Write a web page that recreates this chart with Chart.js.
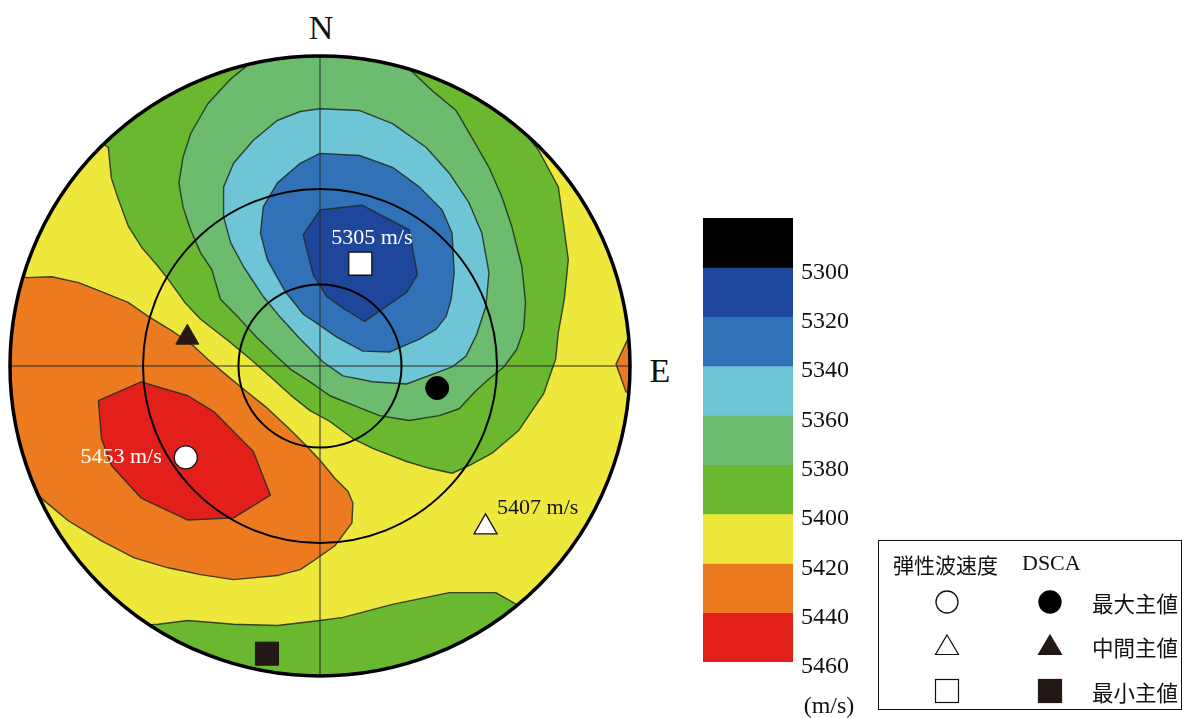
<!DOCTYPE html>
<html>
<head>
<meta charset="utf-8">
<script src="https://cdn.jsdelivr.net/npm/chart.js@4.4.1/dist/chart.umd.min.js"></script>
<style>
  html, body { margin: 0; padding: 0; background: #fff; }
  body { width: 1186px; height: 718px; position: relative; overflow: hidden; }
  canvas { position: absolute; }
  #net { left: 0; top: 46px; }
  #scale { left: 680px; top: 188px; }
  .t { position: absolute; line-height: 1; white-space: nowrap; color: #111; transform: translateY(-50%); }
  .serif { font-family: 'Liberation Serif', 'Times New Roman', serif; }
  .jp { font-family: 'Noto Sans CJK JP', sans-serif; }
  #legend { position: absolute; left: 878px; top: 540px; width: 302px; height: 168px; border: 1.6px solid #111; }
  #legendMarks { position: absolute; left: 0; top: 0; }
</style>
</head>
<body>
<canvas id="net" width="640" height="640"></canvas>
<canvas id="scale" width="200" height="510"></canvas>

<div class="t serif" style="left:321px;top:28px;font-size:34px;transform:translate(-50%,-50%);">N</div>
<div class="t serif" style="left:660px;top:371px;font-size:34px;transform:translate(-50%,-50%);">E</div>
<div class="t serif" style="left:829px;top:705px;font-size:24px;transform:translate(-50%,-50%);">(m/s)</div>

<div id="legend"></div>
<svg id="legendMarks" width="1186" height="718"></svg>
<div class="t jp" style="left:893px;top:564px;font-size:21px;">弾性波速度</div>
<div class="t serif" style="left:1022px;top:563px;font-size:22px;">DSCA</div>
<div class="t jp" id="row0" style="left:1092px;top:603px;font-size:21.5px;"></div>
<div class="t jp" id="row1" style="left:1092px;top:647px;font-size:21.5px;"></div>
<div class="t jp" id="row2" style="left:1092px;top:692px;font-size:21.5px;"></div>

<script>
// Velocity bands (m/s): edges of the filled contour classes
const levelEdges = [5280, 5300, 5320, 5340, 5360, 5380, 5400, 5420, 5440, 5460];
const scaleTicks = [5300, 5320, 5340, 5360, 5380, 5400, 5420, 5440, 5460];
const bandColors = ['#000000', '#1e469b', '#3171b8', '#6ec5d5', '#6cbb6f', '#6ab730', '#efe83c', '#ec7b1f', '#e31f1c'];
const baseBand = 6; // 5400-5420 m/s fills the rest of the net

// Contour boundaries in projection coordinates (primitive circle radius = 1)
const greenNorth = [
  [-0.897, 0.856], [0, 1.128], [0.897, 0.872], [0.673, 0.737], [0.705, 0.696], [0.769, 0.577],
  [0.801, 0.343], [0.788, 0.215], [0.769, 0.109], [0.760, 0.022], [0.721, -0.090], [0.641, -0.208],
  [0.554, -0.282], [0.481, -0.321], [0.426, -0.346], [0.353, -0.330], [0.279, -0.308], [0.170, -0.266],
  [0.106, -0.234], [0.032, -0.179], [-0.032, -0.144], [-0.096, -0.093], [-0.160, -0.035], [-0.224, 0.022],
  [-0.298, 0.083], [-0.385, 0.151], [-0.436, 0.205], [-0.487, 0.276], [-0.522, 0.321], [-0.574, 0.381],
  [-0.619, 0.452], [-0.654, 0.548], [-0.673, 0.606], [-0.683, 0.705]
];
const greenSouth = [
  [-0.705, -1.067], [-0.577, -0.837], [-0.522, -0.833], [-0.426, -0.821], [-0.279, -0.833], [-0.138, -0.837],
  [0, -0.821], [0.074, -0.811], [0.234, -0.769], [0.417, -0.731], [0.567, -0.731], [0.628, -0.766],
  [0.673, -0.785], [0.769, -1.067]
];
const lightGreen = [
  [-0.224, 1.048], [0.304, 1.032], [0.288, 0.958], [0.362, 0.888], [0.439, 0.824], [0.490, 0.737],
  [0.545, 0.641], [0.587, 0.545], [0.619, 0.449], [0.651, 0.321], [0.663, 0.205], [0.657, 0.119],
  [0.635, 0.054], [0.593, -0.003], [0.545, -0.042], [0.503, -0.080], [0.449, -0.138], [0.385, -0.160],
  [0.288, -0.176], [0.192, -0.160], [0.119, -0.131], [0.032, -0.096], [-0.032, -0.051], [-0.096, -0.010],
  [-0.144, 0.035], [-0.208, 0.096], [-0.266, 0.160], [-0.321, 0.215], [-0.349, 0.311], [-0.385, 0.365],
  [-0.417, 0.439], [-0.442, 0.513], [-0.455, 0.590], [-0.442, 0.673], [-0.417, 0.750], [-0.362, 0.846],
  [-0.288, 0.926], [-0.240, 0.965]
];
const cyan = [
  [0, 0.830], [0.128, 0.824], [0.234, 0.782], [0.343, 0.705], [0.417, 0.622], [0.481, 0.526],
  [0.522, 0.429], [0.545, 0.301], [0.535, 0.192], [0.506, 0.103], [0.471, 0.032], [0.426, -0.003],
  [0.375, -0.022], [0.279, -0.058], [0.170, -0.051], [0.074, -0.032], [0.010, 0.013], [-0.064, 0.087],
  [-0.128, 0.157], [-0.183, 0.224], [-0.247, 0.321], [-0.288, 0.397], [-0.311, 0.481], [-0.311, 0.577],
  [-0.279, 0.654], [-0.215, 0.728], [-0.138, 0.792], [-0.064, 0.821]
];
const midBlue = [
  [0, 0.686], [0.128, 0.679], [0.234, 0.641], [0.321, 0.577], [0.394, 0.503], [0.426, 0.429],
  [0.433, 0.301], [0.423, 0.215], [0.407, 0.160], [0.375, 0.119], [0.321, 0.087], [0.224, 0.045],
  [0.138, 0.048], [0.054, 0.093], [-0.006, 0.135], [-0.054, 0.167], [-0.112, 0.240], [-0.170, 0.343],
  [-0.192, 0.429], [-0.183, 0.513], [-0.138, 0.590], [-0.064, 0.654]
];
const darkBlue = [
  [0, 0.503], [0.135, 0.519], [0.288, 0.439], [0.314, 0.295], [0.279, 0.237], [0.144, 0.144],
  [0.080, 0.183], [0.022, 0.224], [-0.022, 0.295], [-0.054, 0.423]
];
const orangeWest = [
  [-1.026, 0.311], [-0.946, 0.285], [-0.865, 0.288], [-0.779, 0.269], [-0.705, 0.240], [-0.619, 0.205],
  [-0.554, 0.160], [-0.471, 0.109], [-0.407, 0.064], [-0.362, 0.022], [-0.295, -0.035], [-0.240, -0.080],
  [-0.176, -0.131], [-0.106, -0.196], [-0.048, -0.253], [0, -0.304], [0.048, -0.362], [0.090, -0.404],
  [0.106, -0.442], [0.103, -0.506], [0.048, -0.580], [-0.016, -0.625], [-0.064, -0.657], [-0.138, -0.676],
  [-0.279, -0.689], [-0.385, -0.673], [-0.490, -0.651], [-0.599, -0.619], [-0.705, -0.564], [-0.811, -0.500],
  [-0.888, -0.436], [-0.920, -0.404], [-1.026, -0.394]
];
const orangeEast = [
  [1.058, 0.151], [0.997, 0.096], [0.955, 0.006], [0.987, -0.083], [1.058, -0.106]
];
const red = [
  [-0.715, -0.112], [-0.577, -0.051], [-0.426, -0.096], [-0.343, -0.147], [-0.215, -0.276], [-0.160, -0.417],
  [-0.279, -0.490], [-0.426, -0.497], [-0.577, -0.426], [-0.673, -0.321], [-0.705, -0.234]
];

// Filled areas, lowest layer first, with the band each one belongs to
const contourLayers = [
  { band: 5, ring: greenNorth },
  { band: 5, ring: greenSouth },
  { band: 4, ring: lightGreen },
  { band: 3, ring: cyan },
  { band: 2, ring: midBlue },
  { band: 1, ring: darkBlue },
  { band: 7, ring: orangeWest },
  { band: 7, ring: orangeEast },
  { band: 8, ring: red }
];

// Principal directions: maximum, intermediate, minimum
const principalNames = ['最大主値', '中間主値', '最小主値'];
const velocityX = [-0.433, 0.534, 0.130];
const velocityY = [-0.295, -0.520, 0.330];
const velocityValues = [5453, 5407, 5305];
const dscaX = [0.378, -0.428, -0.171];
const dscaY = [-0.071, 0.092, -0.928];

// Reference ring radii (30 and 60 degree circles) as fractions of the primitive
const dipRings = [0.263, 0.571];

// ---------- stereonet ----------
const principalStyles = ['circle', 'triangle', 'rect'];
const principalRadius = [11.5, 13.3, 16.3];
const labelPlacement = [
  { dx: -24, dy: 0, align: 'right', color: '#ffffff' },
  { dx: 11.5, dy: -19, align: 'left', color: '#111111' },
  { dx: 11.5, dy: -25, align: 'center', color: '#ffffff' }
];

function netGeometry(chart) {
  const xs = chart.scales.x, ys = chart.scales.y;
  const cx = xs.getPixelForValue(0), cy = ys.getPixelForValue(0);
  return { cx, cy, r: xs.getPixelForValue(1) - cx };
}

function drawNetGrid(chart) {
  const ctx = chart.ctx, g = netGeometry(chart);
  ctx.save();
  ctx.strokeStyle = '#2a2a2a';
  ctx.lineWidth = 1;
  ctx.beginPath();
  ctx.moveTo(g.cx - g.r, g.cy); ctx.lineTo(g.cx + g.r, g.cy);
  ctx.moveTo(g.cx, g.cy - g.r); ctx.lineTo(g.cx, g.cy + g.r);
  ctx.stroke();
  ctx.strokeStyle = '#000';
  ctx.lineWidth = 2;
  dipRings.forEach(f => {
    ctx.beginPath(); ctx.arc(g.cx, g.cy, f * g.r, 0, Math.PI * 2); ctx.stroke();
  });
  ctx.lineWidth = 3.5;
  ctx.beginPath(); ctx.arc(g.cx, g.cy, g.r, 0, Math.PI * 2); ctx.stroke();
  ctx.restore();
}

const stereonetPlugin = {
  id: 'stereonet',
  beforeDatasetsDraw(chart) {
    const ctx = chart.ctx, g = netGeometry(chart);
    ctx.save();
    ctx.beginPath();
    ctx.arc(g.cx, g.cy, g.r, 0, Math.PI * 2);
    ctx.clip();
    ctx.fillStyle = bandColors[baseBand];
    ctx.fillRect(g.cx - g.r, g.cy - g.r, 2 * g.r, 2 * g.r);
    chart.$netClipped = true;
  },
  beforeDatasetDraw(chart, args) {
    const ds = chart.data.datasets[args.index];
    if (!ds.isContour && chart.$netClipped) {
      chart.ctx.restore();
      chart.$netClipped = false;
      drawNetGrid(chart);
    }
  },
  afterDatasetsDraw(chart) {
    if (chart.$netClipped) {
      chart.ctx.restore();
      chart.$netClipped = false;
      drawNetGrid(chart);
    }
    const ctx = chart.ctx;
    const meta = chart.getDatasetMeta(chart.data.datasets.findIndex(d => d.label === '弾性波速度'));
    ctx.save();
    ctx.font = "22px 'Liberation Serif'";
    ctx.textBaseline = 'middle';
    meta.data.forEach((pt, i) => {
      const p = labelPlacement[i];
      ctx.fillStyle = p.color;
      ctx.textAlign = p.align;
      ctx.fillText(velocityValues[i] + ' m/s', pt.x + p.dx, pt.y + p.dy);
    });
    ctx.restore();
  }
};

const contourSets = contourLayers.map((layer, i) => ({
  type: 'line',
  isContour: true,
  label: 'band ' + levelEdges[layer.band] + '-' + levelEdges[layer.band + 1],
  data: layer.ring.concat([layer.ring[0]]).map(([x, y]) => ({ x, y })),
  fill: 'shape',
  backgroundColor: bandColors[layer.band],
  borderColor: 'rgba(32,42,32,0.85)',
  borderWidth: 1.4,
  borderJoinStyle: 'round',
  pointRadius: 0,
  tension: 0,
  order: 100 - i
}));

const markerSets = [
  {
    type: 'scatter',
    label: '弾性波速度',
    data: velocityX.map((x, i) => ({ x, y: velocityY[i] })),
    pointStyle: principalStyles,
    pointRadius: principalRadius,
    backgroundColor: '#ffffff',
    borderColor: '#111111',
    borderWidth: 1.3,
    order: 1
  },
  {
    type: 'scatter',
    label: 'DSCA',
    data: dscaX.map((x, i) => ({ x, y: dscaY[i] })),
    pointStyle: principalStyles,
    pointRadius: principalRadius,
    backgroundColor: ['#000000', '#231815', '#231815'],
    borderColor: ['#000000', '#231815', '#231815'],
    borderWidth: 1,
    order: 0
  }
];

new Chart(document.getElementById('net'), {
  type: 'scatter',
  data: { datasets: contourSets.concat(markerSets) },
  options: {
    responsive: false,
    animation: false,
    events: [],
    layout: { padding: 10, autoPadding: false },
    scales: {
      x: { type: 'linear', min: -1, max: 1, display: false },
      y: { type: 'linear', min: -1, max: 1, display: false }
    },
    plugins: { legend: { display: false }, tooltip: { enabled: false } }
  },
  plugins: [stereonetPlugin]
});

// ---------- colour scale ----------
new Chart(document.getElementById('scale'), {
  type: 'bar',
  data: {
    labels: ['v'],
    datasets: bandColors.map((c, i) => ({
      data: [[levelEdges[i], levelEdges[i + 1]]],
      backgroundColor: c,
      borderWidth: 0,
      barPercentage: 1,
      categoryPercentage: 1,
      grouped: false
    }))
  },
  options: {
    responsive: false,
    animation: false,
    events: [],
    layout: { padding: { left: 23, right: 17, top: 30, bottom: 36 }, autoPadding: false },
    plugins: { legend: { display: false }, tooltip: { enabled: false } },
    scales: {
      x: { display: false },
      y: {
        position: 'right',
        reverse: true,
        min: levelEdges[0],
        max: levelEdges[levelEdges.length - 1],
        grid: { display: false, drawTicks: false },
        border: { display: false },
        afterBuildTicks: s => { s.ticks = scaleTicks.map(v => ({ value: v })); },
        afterFit: s => { s.width = 70; },
        ticks: {
          padding: 8,
          labelOffset: 5,
          color: '#111',
          font: { family: 'Liberation Serif', size: 24 },
          callback: v => String(v)
        }
      }
    }
  }
});

// ---------- legend ----------
principalNames.forEach((n, i) => { document.getElementById('row' + i).textContent = n; });
(function drawLegendMarks() {
  const svg = document.getElementById('legendMarks');
  const rowY = [602, 646, 691];
  const openX = 947, fillX = 1050;
  const dark = '#231815';
  const parts = [];
  const shape = (kind, x, y, fill, stroke) => {
    if (kind === 'circle') return `<circle cx="${x}" cy="${y}" r="11" fill="${fill}" stroke="${stroke}" stroke-width="1.3"/>`;
    if (kind === 'triangle') return `<polygon points="${x},${y - 11} ${x + 11.5},${y + 8.5} ${x - 11.5},${y + 8.5}" fill="${fill}" stroke="${stroke}" stroke-width="1.2"/>`;
    return `<rect x="${x - 11.5}" y="${y - 11.5}" width="23" height="23" fill="${fill}" stroke="${stroke}" stroke-width="1.2"/>`;
  };
  principalStyles.forEach((k, i) => {
    parts.push(shape(k, openX, rowY[i], '#fff', '#111'));
    parts.push(shape(k, fillX, rowY[i], i === 0 ? '#000' : dark, i === 0 ? '#000' : dark));
  });
  svg.innerHTML = parts.join('');
})();
</script>
</body>
</html>
